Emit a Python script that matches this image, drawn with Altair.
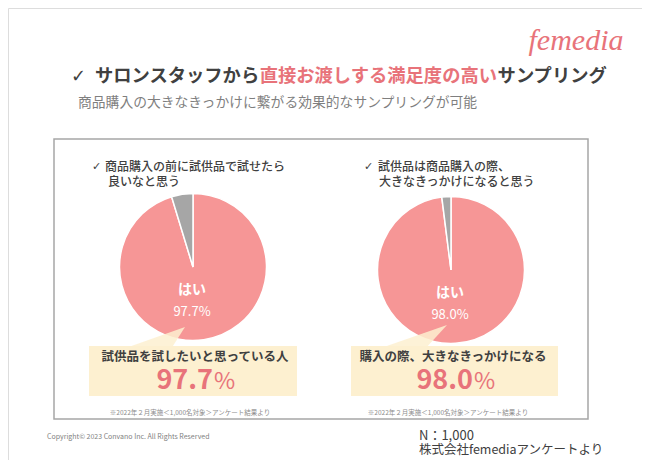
import altair as alt
import pandas as pd

# ---- data -------------------------------------------------------------
title_parts = ["サロンスタッフから", "直接お渡しする満足度の高い", "サンプリング"]
subtitle = "商品購入の大きなきっかけに繋がる効果的なサンプリングが可能"
questions = [["商品購入の前に試供品で試せたら", "良いなと思う"],
             ["試供品は商品購入の際、", "大きなきっかけになると思う"]]
slice_labels = ["はい", "その他"]
pie_yes = [95.3, 98.0]      # pink share as drawn
pie_other = [4.7, 2.0]      # grey share as drawn
yes_pct = ["97.7%", "98.0%"]
callouts = ["試供品を試したいと思っている人", "購入の際、大きなきっかけになる"]
big_nums = ["97.7", "98.0"]
footnote = "※2022年２月実施＜1,000名対象＞アンケート結果より"
copyright_txt = "Copyright© 2023 Convano Inc. All Rights Reserved"
source_lines = ["N：1,000", "株式会社femediaアンケートより"]
logo = "femedia"

# ---- style ------------------------------------------------------------
FONT = "Noto Sans CJK JP"
PINK = "#F69696"
GREY = "#A6A6A6"
ACCENT = "#E8737A"
DARK = "#404040"
CREAM = "#FDF0D0"

one = alt.Data(values=[{}])


def txt(x, y, t, size, color=DARK, weight="normal", align="left", font=FONT, style="normal"):
    return alt.Chart(pd.DataFrame({"t": [t]})).mark_text(
        align=align, baseline="middle", fontSize=size, color=color,
        fontWeight=weight, font=font, fontStyle=style
    ).encode(text="t:N", x=alt.value(x), y=alt.value(y))


def rect(x, x2, y, y2, fill, stroke=None, sw=0):
    kw = dict(fill=fill, strokeWidth=sw)
    if stroke:
        kw["stroke"] = stroke
    return alt.Chart(one).mark_rect(**kw).encode(
        x=alt.value(x), x2=alt.value(x2), y=alt.value(y), y2=alt.value(y2))


def pie(cx, cy, yes, other):
    df = pd.DataFrame({"cat": slice_labels, "val": [yes, other], "ord": [0, 1]})
    return alt.Chart(df).mark_arc(outerRadius=73.5, stroke="white", strokeWidth=1.5).encode(
        theta=alt.Theta("val:Q", stack=True),
        color=alt.Color("cat:N", scale=alt.Scale(domain=slice_labels, range=[PINK, GREY]), legend=None),
        order=alt.Order("ord:Q"),
        x=alt.value(cx), y=alt.value(cy))


def pointer(tx, ty, path):
    return alt.Chart(one).mark_point(
        shape=path, filled=True, size=6400, color=CREAM, opacity=0.85, strokeWidth=0
    ).encode(x=alt.value(tx), y=alt.value(ty))


layers = []
# panel
layers.append(rect(46, 580, 131, 411, "white", GREY, 1.5))

# header
layers.append(txt(63, 69, "✓", 18, DARK, "bold", font="DejaVu Sans"))
cw = 18.3
x0 = 87
for part, col in zip(title_parts, [DARK, ACCENT, DARK]):
    layers.append(txt(x0, 69, part, 18.3, col, "bold"))
    x0 += cw * len(part)
layers.append(txt(70, 95, subtitle, 13.8, "#7F7F7F"))
layers.append(txt(568, 33, logo, 30, ACCENT, "normal", "center", "Liberation Serif", "italic"))

# panels content
pies = [(185, 259), (443, 262)]
qx = [(84, 97, 100), (356, 370, 371)]
boxes = [(81, 289), (343, 550)]
ptr = [(177, 319, "M0,0 L-1.55,0.55 L-0.35,0.55 Z"),
       (439, 317, "M0,0 L-1.72,0.6 L-0.55,0.6 Z")]
centers = [187, 445]
num_edge = [205, 465]

for i in range(2):
    cx, cy = pies[i]
    layers.append(pie(cx, cy, pie_yes[i], pie_other[i]))
    layers.append(pointer(*ptr[i]))
    layers.append(rect(boxes[i][0], boxes[i][1], 338, 388, CREAM))
    layers.append(txt(qx[i][0], 159, "✓", 11, DARK, font="DejaVu Sans"))
    layers.append(txt(qx[i][1], 159, questions[i][0], 12, DARK, 500))
    layers.append(txt(qx[i][2], 174, questions[i][1], 12, DARK, 500))
    layers.append(txt(cx - 1, cy + 23, slice_labels[0], 14, "white", "bold", "center"))
    layers.append(txt(cx - 1, cy + 45, yes_pct[i], 13, "white", "normal", "center"))
    layers.append(txt(centers[i], 349, callouts[i], 12.5, DARK, "bold", "center"))
    layers.append(txt(num_edge[i], 373, big_nums[i], 27, ACCENT, "bold", "right"))
    layers.append(txt(num_edge[i] + 1, 374, "%", 23, ACCENT, "normal", "left"))
    layers.append(txt(centers[i] - 5, 405, footnote, 6.5, "#8C8C8C", "normal", "center"))

# footer
layers.append(txt(39, 429, copyright_txt, 7, "#7F7F7F"))
layers.append(txt(411, 428, source_lines[0], 13, DARK))
layers.append(txt(411, 442, source_lines[1], 12.5, DARK))

chart = alt.layer(*layers).properties(
    width=634, height=452, padding=0,
    autosize=alt.AutoSizeParams(type="none")
).configure_view(stroke=None).configure(background="white")

chart.save("out.html", embed_options={"renderer": "svg", "actions": False})
